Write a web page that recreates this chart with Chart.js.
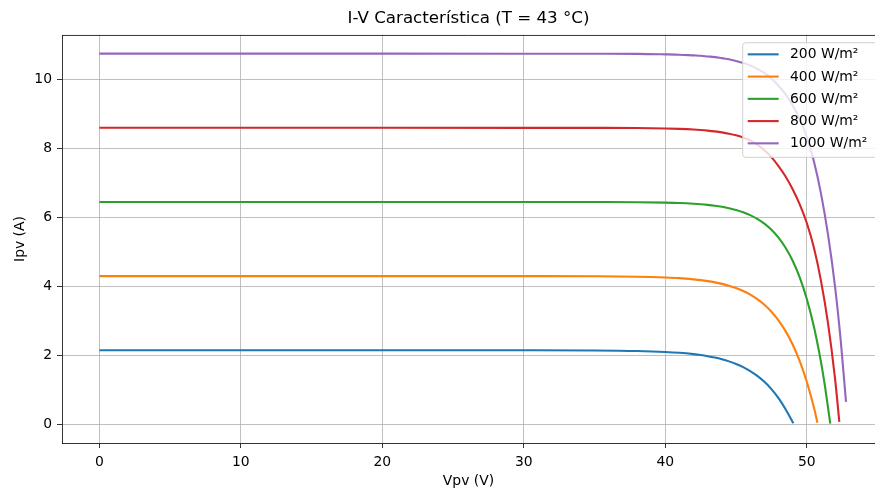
<!DOCTYPE html>
<html>
<head>
<meta charset="utf-8">
<script src="https://cdn.jsdelivr.net/npm/chart.js@4.4.0/dist/chart.umd.min.js"></script>
<style>
html,body{margin:0;padding:0;background:#fff;overflow:hidden;}
canvas{display:block;}
</style>
</head>
<body>
<canvas id="c" width="875" height="490"></canvas>
<script>
// ---- data ----
const chartTitle = 'I-V Característica (T = 43 °C)';
const xTitle = 'Vpv (V)';
const yTitle = 'Ipv (A)';
const seriesLabels = ['200 W/m²', '400 W/m²', '600 W/m²', '800 W/m²', '1000 W/m²'];
const seriesColors = ['#1f77b4', '#ff7f0e', '#2ca02c', '#d62728', '#9467bd'];

const v200 = [0, 10, 20, 30, 35, 38, 40, 41, 42, 42.5, 43, 43.5, 44, 44.5, 45, 45.5, 46, 46.5, 47, 47.5, 48, 48.5, 49.05];
const i200 = [2.15, 2.15, 2.15, 2.149, 2.144, 2.128, 2.10, 2.075, 2.036, 2.010, 1.977, 1.937, 1.888, 1.827, 1.752, 1.660, 1.546, 1.406, 1.234, 1.023, 0.762, 0.44, 0.03];

const v400 = [0, 10, 20, 30, 35, 38, 40, 41, 42, 42.5, 43, 43.5, 44, 44.5, 45, 45.5, 46, 46.5, 47, 47.5, 48, 48.5, 49, 49.5, 50, 50.5, 50.75];
const i400 = [4.30, 4.30, 4.30, 4.299, 4.295, 4.283, 4.26, 4.24, 4.205, 4.183, 4.154, 4.118, 4.074, 4.020, 3.952, 3.867, 3.762, 3.631, 3.468, 3.267, 3.016, 2.704, 2.317, 1.836, 1.236, 0.494, 0.05];

const v600 = [0, 10, 20, 30, 35, 38, 40, 41, 42, 42.5, 43, 43.5, 44, 44.5, 45, 45.5, 46, 46.5, 47, 47.5, 48, 48.5, 49, 49.5, 50, 50.5, 51, 51.3, 51.66];
const i600 = [6.45, 6.45, 6.45, 6.449, 6.447, 6.443, 6.43, 6.418, 6.398, 6.384, 6.365, 6.341, 6.310, 6.270, 6.219, 6.153, 6.069, 5.961, 5.822, 5.644, 5.415, 5.121, 4.744, 4.260, 3.638, 2.838, 1.813, 1.062, 0.02];

const v800 = [0, 10, 20, 30, 35, 38, 40, 41, 42, 42.5, 43, 43.5, 44, 44.5, 45, 45.5, 46, 46.5, 47, 47.5, 48, 48.5, 49, 49.5, 50, 50.5, 51, 51.5, 52, 52.3];
const i800 = [8.60, 8.60, 8.60, 8.599, 8.597, 8.593, 8.58, 8.569, 8.551, 8.537, 8.519, 8.496, 8.467, 8.429, 8.381, 8.317, 8.236, 8.11, 7.95, 7.75, 7.49, 7.19, 6.82, 6.38, 5.84, 5.13, 4.17, 2.93, 1.31, 0.07];

const v1000 = [0, 10, 20, 30, 35, 38, 40, 41, 42, 42.5, 43, 43.5, 44, 44.5, 45, 45.5, 46, 46.5, 47, 47.5, 48, 48.5, 49, 49.5, 50, 50.5, 51, 51.5, 52, 52.4, 52.77];
const i1000 = [10.75, 10.75, 10.75, 10.749, 10.747, 10.744, 10.73, 10.72, 10.70, 10.69, 10.67, 10.65, 10.62, 10.59, 10.54, 10.48, 10.41, 10.31, 10.19, 10.03, 9.82, 9.57, 9.25, 8.85, 8.33, 7.63, 6.70, 5.50, 3.98, 2.42, 0.65];

const xTicks = [0, 10, 20, 30, 40, 50];
const yTicks = [0, 2, 4, 6, 8, 10];
const xRange = [-2.64, 54.82];
const yRange = [-0.54, 11.29];

// ---- build datasets ----
const volts = [v200, v400, v600, v800, v1000];
const amps = [i200, i400, i600, i800, i1000];
const datasets = seriesLabels.map((lab, k) => ({
  label: lab,
  data: volts[k].map((v, j) => ({x: v, y: amps[k][j]})),
  borderColor: seriesColors[k],
  backgroundColor: seriesColors[k],
  borderWidth: 2.1,
  pointRadius: 0,
  fill: false,
  cubicInterpolationMode: 'monotone'
}));

const FONT = "'DejaVu Sans', sans-serif";

const framePlugin = {
  id: 'frame',
  afterDatasetsDraw(chart) {
    const {ctx, chartArea: a} = chart;
    ctx.save();
    ctx.strokeStyle = '#000';
    ctx.lineWidth = 0.8;
    ctx.beginPath();
    ctx.moveTo(a.left, a.top + 0.4);
    ctx.lineTo(a.right, a.top + 0.4);
    ctx.stroke();
    ctx.restore();
  }
};

const legendPlugin = {
  id: 'mplLegend',
  afterDatasetsDraw(chart) {
    const {ctx, chartArea: a} = chart;
    const x0 = a.right - 132.3, y0 = a.top + 7.7, w = 140, h = 114.6, r = 3;
    ctx.save();
    ctx.beginPath();
    ctx.moveTo(x0 + r, y0);
    ctx.lineTo(x0 + w - r, y0);
    ctx.arcTo(x0 + w, y0, x0 + w, y0 + r, r);
    ctx.lineTo(x0 + w, y0 + h - r);
    ctx.arcTo(x0 + w, y0 + h, x0 + w - r, y0 + h, r);
    ctx.lineTo(x0 + r, y0 + h);
    ctx.arcTo(x0, y0 + h, x0, y0 + h - r, r);
    ctx.lineTo(x0, y0 + r);
    ctx.arcTo(x0, y0, x0 + r, y0, r);
    ctx.closePath();
    ctx.fillStyle = 'rgba(255,255,255,0.8)';
    ctx.fill();
    ctx.strokeStyle = 'rgba(204,204,204,0.9)';
    ctx.lineWidth = 1;
    ctx.stroke();
    ctx.font = '13.9px ' + FONT;
    ctx.textBaseline = 'middle';
    ctx.textAlign = 'left';
    chart.data.datasets.forEach((ds, k) => {
      const yy = y0 + 11.6 + k * 22.25;
      ctx.strokeStyle = ds.borderColor;
      ctx.lineWidth = 2.1;
      ctx.beginPath();
      ctx.moveTo(x0 + 5, yy);
      ctx.lineTo(x0 + 36, yy);
      ctx.stroke();
      ctx.fillStyle = '#000';
      ctx.fillText(ds.label, x0 + 47.3, yy + 0.5);
    });
    ctx.restore();
  }
};

new Chart(document.getElementById('c'), {
  type: 'line',
  data: {datasets},
  plugins: [framePlugin, legendPlugin],
  options: {
    responsive: false,
    animation: false,
    devicePixelRatio: 1,
    layout: {padding: 0},
    plugins: {
      legend: {display: false},
      tooltip: {enabled: false},
      title: {
        display: true,
        text: chartTitle,
        fullSize: false,
        color: '#000',
        font: {family: FONT, size: 16.7, weight: 'normal'},
        padding: {top: 9, bottom: 6}
      }
    },
    scales: {
      x: {
        type: 'linear',
        min: xRange[0],
        max: xRange[1],
        afterBuildTicks: ax => { ax.ticks = xTicks.map(v => ({value: v})); },
        afterFit: s => { s.height = 47; },
        grid: {color: '#b0b0b0', lineWidth: 0.8, drawTicks: true, tickLength: 5, tickColor: '#000', tickWidth: 0.8},
        border: {display: true, color: '#000', width: 0.8},
        ticks: {color: '#000', font: {family: FONT, size: 13.9}, padding: 6.5, maxRotation: 0, autoSkip: false},
        title: {display: true, text: xTitle, color: '#000', font: {family: FONT, size: 13.9}, padding: {top: 0, bottom: 0.5}}
      },
      y: {
        type: 'linear',
        min: yRange[0],
        max: yRange[1],
        afterBuildTicks: ax => { ax.ticks = yTicks.map(v => ({value: v})); },
        afterFit: s => { s.width = 62; },
        grid: {color: '#b0b0b0', lineWidth: 0.8, drawTicks: true, tickLength: 5, tickColor: '#000', tickWidth: 0.8},
        border: {display: true, color: '#000', width: 0.8},
        ticks: {color: '#000', font: {family: FONT, size: 13.9}, padding: 5, autoSkip: false},
        title: {display: true, text: yTitle, color: '#000', font: {family: FONT, size: 13.9}, padding: {top: 12.5, bottom: 0}}
      }
    }
  }
});
</script>
</body>
</html>
